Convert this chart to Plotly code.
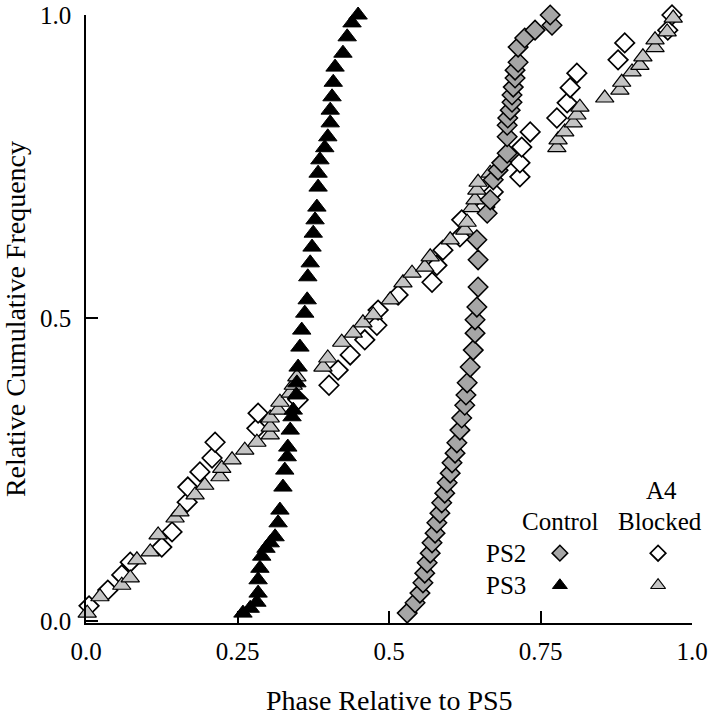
import plotly.graph_objects as go

SERIF = "Liberation Serif"

# PS2, control (gray diamonds)
ps2_ctrl_x = [0.530, 0.543, 0.551, 0.556, 0.559, 0.563, 0.568, 0.571, 0.576, 0.579,
              0.584, 0.587, 0.592, 0.596, 0.601, 0.604, 0.609, 0.612, 0.617, 0.620,
              0.625, 0.627, 0.629, 0.634, 0.639, 0.642, 0.642, 0.645, 0.647, 0.647,
              0.645, 0.662, 0.667, 0.672, 0.680, 0.686, 0.695, 0.695, 0.695, 0.696,
              0.700, 0.703, 0.703, 0.705, 0.708, 0.708, 0.713, 0.713, 0.724, 0.741,
              0.769, 0.766]
ps2_ctrl_y = [0.013, 0.030, 0.046, 0.063, 0.079, 0.096, 0.112, 0.129, 0.145, 0.162,
              0.178, 0.195, 0.211, 0.228, 0.244, 0.261, 0.277, 0.294, 0.315, 0.335,
              0.356, 0.373, 0.393, 0.419, 0.447, 0.475, 0.497, 0.518, 0.551, 0.596,
              0.629, 0.673, 0.695, 0.728, 0.744, 0.756, 0.772, 0.799, 0.818, 0.830,
              0.843, 0.856, 0.868, 0.881, 0.896, 0.909, 0.922, 0.947, 0.962, 0.975,
              0.983, 1.000]

# PS3, control (black triangles)
ps3_ctrl_x = [0.259, 0.271, 0.282, 0.284, 0.284, 0.287, 0.290, 0.297, 0.304, 0.312,
              0.317, 0.320, 0.325, 0.328, 0.332, 0.333, 0.337, 0.340, 0.342, 0.347,
              0.348, 0.350, 0.353, 0.356, 0.361, 0.365, 0.366, 0.370, 0.373, 0.375,
              0.378, 0.381, 0.383, 0.383, 0.386, 0.394, 0.399, 0.403, 0.403, 0.406,
              0.408, 0.411, 0.424, 0.431, 0.439, 0.449]
ps3_ctrl_y = [0.013, 0.021, 0.031, 0.046, 0.068, 0.087, 0.107, 0.120, 0.129, 0.139,
              0.162, 0.183, 0.221, 0.249, 0.271, 0.287, 0.315, 0.337, 0.348, 0.373,
              0.393, 0.419, 0.452, 0.480, 0.508, 0.530, 0.568, 0.591, 0.617, 0.640,
              0.662, 0.683, 0.716, 0.739, 0.761, 0.781, 0.799, 0.822, 0.843, 0.865,
              0.889, 0.914, 0.937, 0.964, 0.987, 1.000]

# PS2, A4 blocked (open diamonds)
ps2_blk_x = [0.005, 0.036, 0.059, 0.073, 0.125, 0.142, 0.167, 0.168, 0.188, 0.208,
             0.213, 0.282, 0.284, 0.350, 0.401, 0.416, 0.436, 0.460, 0.480, 0.482,
             0.515, 0.571, 0.579, 0.589, 0.617, 0.620, 0.658, 0.672, 0.716, 0.716,
             0.719, 0.733, 0.777, 0.794, 0.799, 0.810, 0.878, 0.889, 0.960, 0.967]
ps2_blk_y = [0.025, 0.051, 0.076, 0.097, 0.122, 0.147, 0.196, 0.221, 0.246, 0.269,
             0.295, 0.318, 0.343, 0.365, 0.389, 0.414, 0.439, 0.464, 0.488, 0.513,
             0.538, 0.559, 0.587, 0.612, 0.634, 0.662, 0.683, 0.708, 0.733, 0.756,
             0.782, 0.807, 0.830, 0.855, 0.880, 0.904, 0.926, 0.954, 0.975, 1.000]

# PS3, A4 blocked (gray triangles)
ps3_blk_x = [0.002, 0.023, 0.059, 0.073, 0.084, 0.106, 0.119, 0.147, 0.155, 0.180,
             0.196, 0.221, 0.224, 0.241, 0.262, 0.282, 0.304, 0.304, 0.304, 0.317,
             0.320, 0.337, 0.342, 0.348, 0.391, 0.399, 0.422, 0.441, 0.457, 0.474,
             0.502, 0.523, 0.538, 0.559, 0.568, 0.601, 0.625, 0.629, 0.637, 0.642,
             0.645, 0.647, 0.667, 0.777, 0.779, 0.790, 0.804, 0.810, 0.815, 0.856,
             0.881, 0.884, 0.901, 0.914, 0.919, 0.939, 0.939, 0.959, 0.969]
ps3_blk_y = [0.013, 0.040, 0.059, 0.071, 0.101, 0.114, 0.142, 0.170, 0.180, 0.208,
             0.224, 0.238, 0.252, 0.266, 0.282, 0.295, 0.307, 0.320, 0.335, 0.348,
             0.361, 0.376, 0.389, 0.403, 0.419, 0.434, 0.460, 0.475, 0.492, 0.505,
             0.530, 0.558, 0.574, 0.584, 0.601, 0.629, 0.645, 0.658, 0.682, 0.695,
             0.711, 0.724, 0.739, 0.781, 0.794, 0.807, 0.822, 0.835, 0.848, 0.863,
             0.876, 0.889, 0.906, 0.917, 0.931, 0.946, 0.959, 0.972, 0.995]

x_ticks = [0.0, 0.25, 0.5, 0.75, 1.0]
x_tick_text = ["0.0", "0.25", "0.5", "0.75", "1.0"]
y_ticks = [0.0, 0.5, 1.0]
y_tick_text = ["0.0", "0.5", "1.0"]

DIAMOND_GRAY = "#a6a6a6"
TRIANGLE_GRAY = "#c4c4c4"

styles = {
    "ps2_blk": dict(symbol="diamond", size=15, color="white", line=dict(color="black", width=1.7)),
    "ps3_blk": dict(symbol="triangle-up", size=16, color=TRIANGLE_GRAY, line=dict(color="black", width=1.2)),
    "ps2_ctrl": dict(symbol="diamond", size=15, color=DIAMOND_GRAY, line=dict(color="black", width=1.5)),
    "ps3_ctrl": dict(symbol="triangle-up", size=16, color="black", line=dict(color="black", width=1)),
}

fig = go.Figure()
for key, xs, ys in [
    ("ps2_blk", ps2_blk_x, ps2_blk_y),
    ("ps3_blk", ps3_blk_x, ps3_blk_y),
    ("ps2_ctrl", ps2_ctrl_x, ps2_ctrl_y),
    ("ps3_ctrl", ps3_ctrl_x, ps3_ctrl_y),
]:
    fig.add_trace(go.Scatter(x=xs, y=ys, mode="markers", marker=styles[key],
                             cliponaxis=False, showlegend=False, hoverinfo="x+y"))

# key in the lower right corner
key_cols = {"ctrl": 0.782, "blk": 0.944}
key_rows = {"ps2": 0.112, "ps3": 0.059}
for row in ("ps2", "ps3"):
    for col in ("ctrl", "blk"):
        st = dict(styles[f"{row}_{col}"])
        st["size"] = st["size"] - 3
        fig.add_trace(go.Scatter(x=[key_cols[col]], y=[key_rows[row]], mode="markers",
                                 marker=st, showlegend=False, hoverinfo="skip"))

text_font = dict(family=SERIF, size=25, color="black")
for txt, x, y, anchor in [
    ("Control", 0.782, 0.165, "center"),
    ("Blocked", 0.947, 0.165, "center"),
    ("A4", 0.950, 0.216, "center"),
    ("PS2", 0.730, key_rows["ps2"], "right"),
    ("PS3", 0.730, key_rows["ps3"], "right"),
]:
    fig.add_annotation(x=x, y=y, text=txt, showarrow=False, xanchor=anchor,
                       yanchor="middle", font=text_font)

# axis titles placed by hand
fig.add_annotation(x=0.5, y=-0.127, xref="paper", yref="paper", text="Phase Relative to PS5",
                   showarrow=False, xanchor="center", yanchor="middle",
                   font=dict(family=SERIF, size=28, color="black"))
fig.add_annotation(x=-0.117, y=0.5, xref="paper", yref="paper", text="Relative Cumulative Frequency",
                   showarrow=False, textangle=-90, xanchor="center", yanchor="middle",
                   font=dict(family=SERIF, size=28, color="black"))

fig.update_layout(
    width=710,
    height=719,
    margin=dict(l=86, r=18, t=15, b=96),
    paper_bgcolor="white",
    plot_bgcolor="white",
    font=dict(family=SERIF, color="black"),
)
axis_common = dict(
    ticks="inside",
    ticklen=12,
    tickwidth=1.5,
    tickcolor="black",
    showline=True,
    linecolor="black",
    linewidth=1.5,
    showgrid=False,
    zeroline=False,
    automargin=False,
    ticklabeloverflow="allow",
    tickfont=dict(family=SERIF, size=25, color="black"),
)
fig.update_xaxes(range=[0, 1], tickvals=x_ticks, ticktext=x_tick_text,
                 ticklabelstandoff=5, **axis_common)
fig.update_yaxes(range=[-0.0033, 1], tickvals=y_ticks, ticktext=y_tick_text,
                 ticklabelstandoff=8, **axis_common)

# the page body has a default 8px margin, which would push the figure off the window
fig.write_html("out.html", config={"displayModeBar": False},
               post_script="document.body.style.margin = '0';")
